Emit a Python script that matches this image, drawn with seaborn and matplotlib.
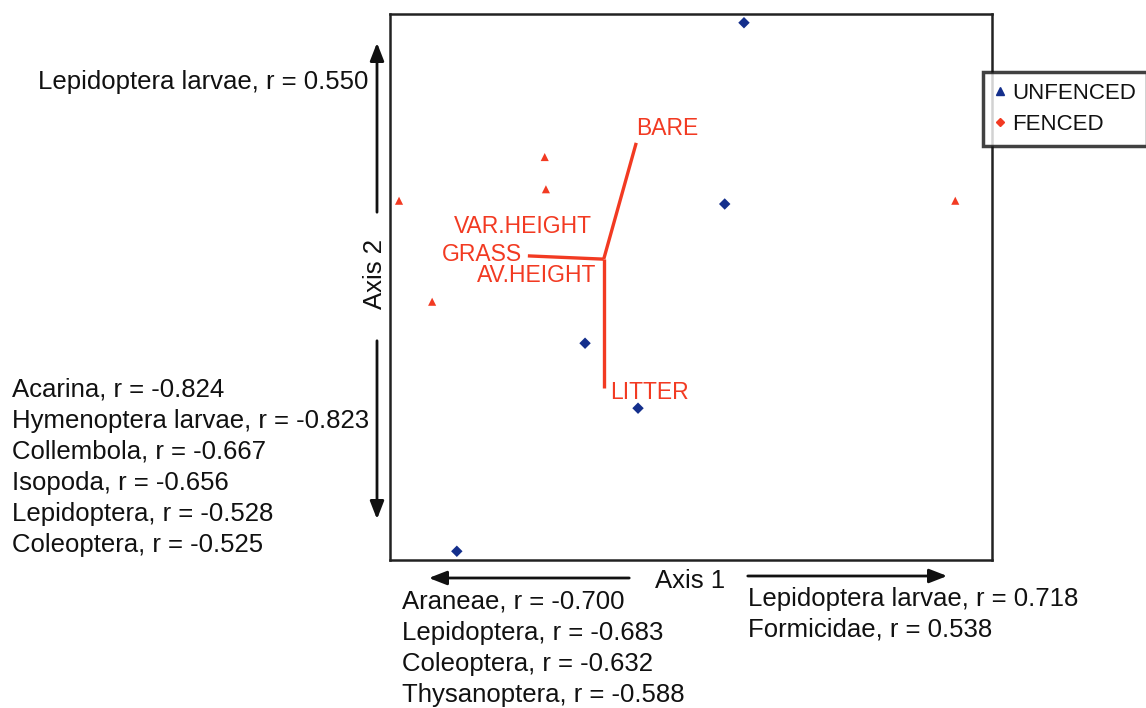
import matplotlib
matplotlib.use("Agg")
import matplotlib.pyplot as plt
from matplotlib.lines import Line2D
import seaborn as sns
import pandas as pd

sns.set_theme(style="white")
plt.rcParams["font.family"] = ["Liberation Sans", "DejaVu Sans"]

# Site scores on ordination axes (scaled 0-100)
unfenced_x = [58.8, 55.6, 32.4, 41.2, 11.1]
unfenced_y = [98.4, 65.2, 39.7, 27.8, 1.6]
fenced_x = [1.5, 25.7, 25.9, 7.0, 93.9]
fenced_y = [65.8, 73.8, 67.9, 47.3, 65.8]

# Environmental biplot vectors
vec_origin = (35.5, 55.1)
vec_names = ["BARE", "GRASS", "LITTER"]
vec_end_x = [40.9, 22.9, 35.5]
vec_end_y = [76.4, 55.7, 31.5]

# Correlated taxa along each axis
axis2_pos = ["Lepidoptera larvae, r = 0.550"]
axis2_neg = ["Acarina, r = -0.824", "Hymenoptera larvae, r = -0.823",
             "Collembola, r = -0.667", "Isopoda, r = -0.656",
             "Lepidoptera, r = -0.528", "Coleoptera, r = -0.525"]
axis1_neg = ["Araneae, r = -0.700", "Lepidoptera, r = -0.683",
             "Coleoptera, r = -0.632", "Thysanoptera, r = -0.588"]
axis1_pos = ["Lepidoptera larvae, r = 0.718", "Formicidae, r = 0.538"]

RED = "#f23a22"
BLUE = "#142f8c"
W, H = 1146, 708

df = pd.DataFrame({
    "x": unfenced_x + fenced_x,
    "y": unfenced_y + fenced_y,
    "site": ["UNFENCED"] * len(unfenced_x) + ["FENCED"] * len(fenced_x),
})

fig = plt.figure(figsize=(W / 100, H / 100), dpi=100)
ax = fig.add_axes([390 / W, 1 - 560 / H, 602 / W, 546 / H])

sns.scatterplot(data=df, x="x", y="y", hue="site", style="site",
                palette={"UNFENCED": BLUE, "FENCED": RED},
                markers={"UNFENCED": "D", "FENCED": "^"},
                s=34, edgecolor="none", legend=False, ax=ax)

ax.set_xlim(0, 100)
ax.set_ylim(0, 100)
ax.set_xticks([])
ax.set_yticks([])
ax.set_xlabel("")
ax.set_ylabel("")
for sp in ax.spines.values():
    sp.set_linewidth(1.8)
    sp.set_color("#222222")

# biplot arrows
for ex, ey in zip(vec_end_x, vec_end_y):
    ax.plot([vec_origin[0], ex], [vec_origin[1], ey], color=RED, lw=2.4,
            solid_capstyle="butt")

lab_kw = dict(color=RED, fontsize=16.5)
ax.text(vec_end_x[0], vec_end_y[0] + 2.6, "BARE", ha="left", va="center", **lab_kw)
ax.text(vec_end_x[1] - 1.0, vec_end_y[1] + 0.3, "GRASS", ha="right", va="center", **lab_kw)
ax.text(vec_end_x[2] + 1.0, vec_end_y[2] - 0.9, "LITTER", ha="left", va="center", **lab_kw)
ax.text(33.6, 61.0, "VAR.HEIGHT", ha="right", va="center", **lab_kw)
ax.text(34.3, 52.1, "AV.HEIGHT", ha="right", va="center", **lab_kw)


def fx(px):
    return px / W


def fy(py):
    return 1 - py / H


txt_kw = dict(fontsize=18.5, color="#111111")
arrow_kw = dict(arrowstyle="-|>,head_length=0.9,head_width=0.35", lw=2.0, color="#111111")

# Axis 2 arrows and label
fig.add_artist(plt.Annotation("", xy=(fx(377), fy(40)), xytext=(fx(377), fy(215)),
                              xycoords="figure fraction", arrowprops=arrow_kw))
fig.add_artist(plt.Annotation("", xy=(fx(377), fy(522)), xytext=(fx(377), fy(338)),
                              xycoords="figure fraction", arrowprops=arrow_kw))
fig.text(fx(375), fy(274), "Axis 2", rotation=90, ha="center", va="center", **txt_kw)

# Axis 1 arrows and label
fig.add_artist(plt.Annotation("", xy=(fx(426), fy(578)), xytext=(fx(632), fy(578)),
                              xycoords="figure fraction", arrowprops=arrow_kw))
fig.add_artist(plt.Annotation("", xy=(fx(950), fy(576)), xytext=(fx(745), fy(576)),
                              xycoords="figure fraction", arrowprops=arrow_kw))
fig.text(fx(690), fy(581), "Axis 1", ha="center", va="center", **txt_kw)

# taxon correlation lists
fig.text(fx(368), fy(82), axis2_pos[0], ha="right", va="center", **txt_kw)
for i, s in enumerate(axis2_neg):
    fig.text(fx(12), fy(390 + i * 31), s, ha="left", va="center", **txt_kw)
for i, s in enumerate(axis1_neg):
    fig.text(fx(402), fy(602 + i * 31), s, ha="left", va="center", **txt_kw)
for i, s in enumerate(axis1_pos):
    fig.text(fx(748), fy(599 + i * 31), s, ha="left", va="center", **txt_kw)

# legend
handles = [
    Line2D([], [], marker="^", ls="none", color=BLUE, markersize=6),
    Line2D([], [], marker="D", ls="none", color=RED, markersize=4.5),
]
leg = fig.legend(handles, ["UNFENCED", "FENCED"], loc="upper left",
                 bbox_to_anchor=(fx(983), fy(72)), bbox_transform=fig.transFigure,
                 frameon=True, fancybox=False, fontsize=16, handlelength=0.5,
                 handletextpad=0.3, borderpad=0.5, labelspacing=0.45,
                 borderaxespad=0)
leg.get_frame().set_edgecolor("#111111")
leg.get_frame().set_linewidth(2.5)
for t in leg.get_texts():
    t.set_color("#111111")

fig.savefig("out.png", dpi=100, facecolor="white")
